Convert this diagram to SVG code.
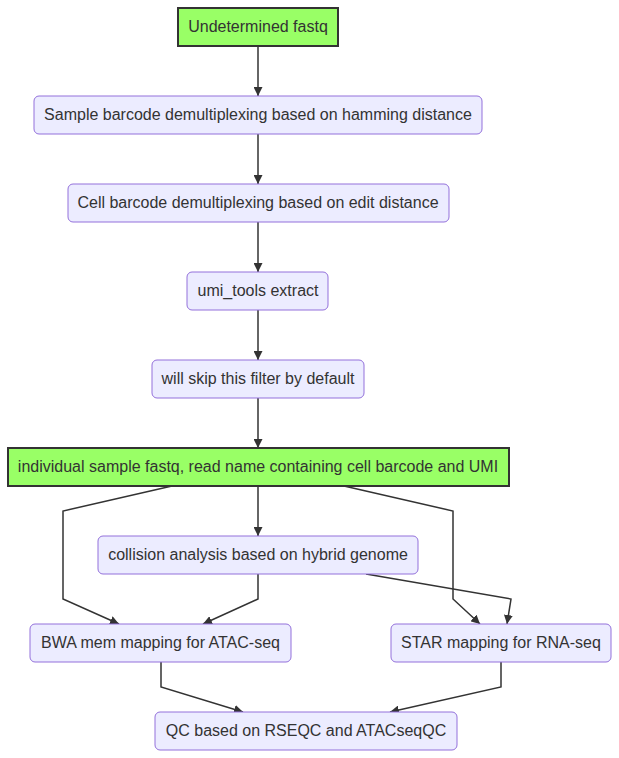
<svg xmlns="http://www.w3.org/2000/svg" width="619" height="758" viewBox="0 0 619 758">
<style>
.n rect{fill:#ECECFF;stroke:#9370DB;stroke-width:1}
.g rect{fill:#99FF66;stroke:#333333;stroke-width:2}
text{font-family:"Liberation Sans",Arial,sans-serif;font-size:16px;fill:#333333;text-anchor:middle;dominant-baseline:central}
.e path{fill:none;stroke:#333333;stroke-width:1.5;marker-end:url(#arr)}
</style>
<defs>
<marker id="arr" viewBox="0 0 10 10" refX="10" refY="5" markerWidth="6" markerHeight="6" markerUnits="strokeWidth" orient="auto">
<path d="M0,0 L10,5 L0,10 z" fill="#333333"/>
</marker>
</defs>
<rect width="619" height="758" fill="#ffffff"/>
<g class="e" id="connectors">
<path d="M258,46 L258,96"/>
<path d="M258,134 L258,184"/>
<path d="M258,222 L258,272"/>
<path d="M258,310 L258,360"/>
<path d="M258,398 L258,448"/>
<path d="M172,486 L63,511 L63,599 L119,624"/>
<path d="M258,486 L258,536"/>
<path d="M344,486 L453,511 L453,599 L480,624"/>
<path d="M258,574 L258,599 L203,624"/>
<path d="M366,574 L511,599 L507,624"/>
<path d="M161,662 L161,687 L243,712"/>
<path d="M501,662 L501,687 L390,712"/>
</g>
<g id="n1" class="g"><rect x="178" y="8" width="160" height="38"/><text x="258" y="26">Undetermined fastq</text></g>
<g id="n2" class="n"><rect x="34" y="96" width="448" height="38" rx="5"/><text x="258" y="114">Sample barcode demultiplexing based on hamming distance</text></g>
<g id="n3" class="n"><rect x="68" y="184" width="381" height="38" rx="5"/><text x="258" y="202">Cell barcode demultiplexing based on edit distance</text></g>
<g id="n4" class="n"><rect x="187" y="272" width="141" height="38" rx="5"/><text x="258" y="290">umi_tools extract</text></g>
<g id="n5" class="n"><rect x="152" y="360" width="212" height="38" rx="5"/><text x="258" y="378">will skip this filter by default</text></g>
<g id="n6" class="g"><rect x="8" y="448" width="501" height="38"/><text x="258" y="466">individual sample fastq, read name containing cell barcode and UMI</text></g>
<g id="n7" class="n"><rect x="98" y="536" width="320" height="38" rx="5"/><text x="258" y="554">collision analysis based on hybrid genome</text></g>
<g id="n8" class="n"><rect x="30" y="624" width="261" height="38" rx="5"/><text x="160.5" y="642">BWA mem mapping for ATAC-seq</text></g>
<g id="n9" class="n"><rect x="391" y="624" width="220" height="38" rx="5"/><text x="501" y="642">STAR mapping for RNA-seq</text></g>
<g id="n10" class="n"><rect x="155" y="712" width="302" height="38" rx="5"/><text x="306" y="730">QC based on RSEQC and ATACseqQC</text></g>
</svg>
